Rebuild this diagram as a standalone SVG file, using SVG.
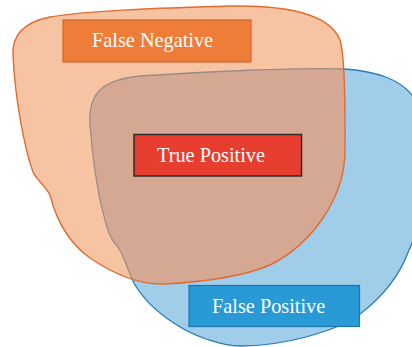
<svg xmlns="http://www.w3.org/2000/svg" width="412" height="347" viewBox="0 0 412 347">
<style>
.lbl{font-family:"Liberation Serif","Times New Roman",serif;font-size:20.3px;fill:#ffffff}
</style>
<defs>
<path id="orangeShape" d="M 13,55 C 12,35 25,22 50,17 C 90,10 170,8 230,6 C 290,5 330,15 340,40 C 346,60 345,120 345,150 C 345,200 310,245 270,265 C 240,278 200,282 165,284 C 140,285 115,275 90,258 C 65,240 55,215 50,195 C 45,185 38,182 33,172 C 25,150 15,100 13,55 Z"/>
<path id="blueShape" d="M 90,125 C 88,95 100,80 140,76 C 200,72 300,67 345,69 C 380,72 400,80 412,95 C 425,110 425,220 409,250 C 400,275 385,295 360,314 C 345,325 330,330 306,337 C 280,344 255,346 240,346 C 225,346 215,342 206,339 C 180,330 150,310 135,285 C 128,272 125,258 118,247 C 108,238 105,220 100,200 C 96,180 92,150 90,125 Z"/>
<clipPath id="orangeClip"><use href="#orangeShape"/></clipPath>
</defs>
<rect width="412" height="347" fill="#ffffff"/>
<g id="regions">
<use id="positives-region" href="#blueShape" fill="#9FCDEA" stroke="#2B7DB6" stroke-width="1.3"/>
<use id="actual-region" href="#orangeShape" fill="#F7C4A3"/>
<g clip-path="url(#orangeClip)">
<use href="#blueShape" fill="#D5A894" stroke="#9C8B86" stroke-width="1.3"/>
</g>
<use href="#orangeShape" fill="none" stroke="#E06C2E" stroke-width="1.4"/>
</g>
<g id="false-negative">
<rect x="63" y="20" width="188" height="42" fill="#EE7D3A" stroke="#D8642A" stroke-width="1.2"/>
<text class="lbl" x="92" y="47">False Negative</text>
</g>
<g id="true-positive">
<rect x="134" y="134.5" width="167.5" height="41.5" fill="#E83E30" stroke="#2E2A28" stroke-width="1.5"/>
<text class="lbl" x="157" y="162">True Positive</text>
</g>
<g id="false-positive">
<rect x="189" y="285.5" width="170.5" height="41" fill="#2A9AD6" stroke="#1E76AE" stroke-width="1.2"/>
<text class="lbl" x="212" y="313">False Positive</text>
</g>
</svg>
